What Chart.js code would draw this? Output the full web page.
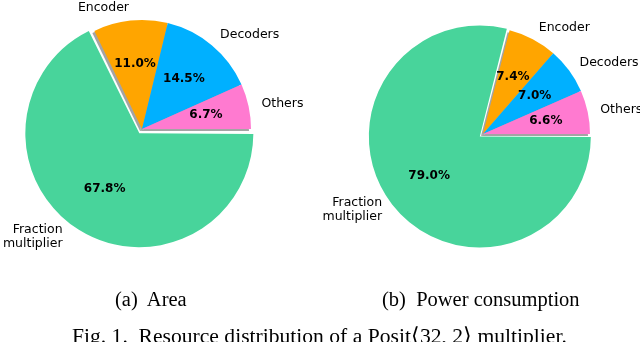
<!DOCTYPE html>
<html>
<head>
<meta charset="utf-8">
<script src="https://cdn.jsdelivr.net/npm/chart.js@4/dist/chart.umd.min.js"></script>
<style>
  html, body { margin: 0; padding: 0; background: #fff; }
  #wrap { position: relative; width: 640px; height: 342px; overflow: hidden; }
  .pane { position: absolute; top: 0; width: 320px; height: 290px; }
  .cap { position: absolute; font-family: "Liberation Serif", serif; font-size: 20.5px; color: #000; white-space: pre; }
</style>
</head>
<body>
<div id="wrap">
  <div class="pane" style="left:0"><canvas id="areaChart" width="320" height="290"></canvas></div>
  <div class="pane" style="left:320px"><canvas id="powerChart" width="320" height="290"></canvas></div>
  <div class="cap" style="left:115px; top:288px">(a)  Area</div>
  <div class="cap" style="left:382px; top:288px">(b)  Power consumption</div>
  <div class="cap" style="left:72px; top:323px; font-size:21.6px">Fig. 1.  Resource distribution of a Posit⟨32, 2⟩ multiplier.</div>
</div>
<script>
// slices listed clockwise from 3 o'clock (matplotlib draws them counter-clockwise)
const labels = ['Fraction\nmultiplier', 'Encoder', 'Decoders', 'Others'];
const areaValues = [67.8, 11.0, 14.5, 6.7];
const powerValues = [79.0, 7.4, 7.0, 6.6];
const colors = ['#48d49b', '#ffa500', '#00b0ff', '#ff7ad0'];

// gray shadow under the pie, percentages inside, names outside
const piePlugin = {
  id: 'piePlugin',
  beforeDatasetsDraw(chart) {
    const ctx = chart.ctx;
    const shift = chart.options.plugins.piePlugin.shift;
    chart.getDatasetMeta(0).data.forEach((arc, i) => {
      const p = arc.getProps(['x', 'y', 'startAngle', 'endAngle', 'outerRadius']);
      const mid = (p.startAngle + p.endAngle) / 2;
      const off = shift[i];
      const cx = p.x + Math.cos(mid) * off - 2, cy = p.y + Math.sin(mid) * off + 2;
      ctx.save();
      ctx.fillStyle = 'rgba(90,90,90,0.55)';
      ctx.beginPath();
      ctx.moveTo(cx, cy);
      ctx.arc(cx, cy, p.outerRadius, p.startAngle, p.endAngle);
      ctx.closePath();
      ctx.fill();
      ctx.restore();
    });
  },
  afterDatasetsDraw(chart) {
    const ctx = chart.ctx;
    const opts = chart.options.plugins.piePlugin;
    const vals = chart.data.datasets[0].data;
    chart.getDatasetMeta(0).data.forEach((arc, i) => {
      const p = arc.getProps(['x', 'y', 'startAngle', 'endAngle', 'outerRadius']);
      const mid = (p.startAngle + p.endAngle) / 2;
      const off = opts.shift[i];
      const cx = p.x + Math.cos(mid) * off, cy = p.y + Math.sin(mid) * off;
      const r = p.outerRadius;
      ctx.save();
      ctx.fillStyle = '#000';
      ctx.textBaseline = 'middle';
      ctx.textAlign = 'center';
      ctx.font = 'bold 12px "DejaVu Sans"';
      ctx.fillText(vals[i].toFixed(1) + '%', cx + Math.cos(mid) * r * 0.6, cy + Math.sin(mid) * r * 0.6);
      ctx.font = '12.5px "DejaVu Sans"';
      const lx = cx + Math.cos(mid) * r * 1.12 + opts.nudge[i], ly = cy + Math.sin(mid) * r * 1.12;
      ctx.textAlign = Math.cos(mid) >= 0 ? 'left' : 'right';
      const lines = chart.data.labels[i].split('\n');
      const lh = 14;
      lines.forEach((t, k) => {
        ctx.fillText(t, lx, ly + (k - (lines.length - 1) / 2) * lh);
      });
      ctx.restore();
    });
  }
};

function makePie(id, values, radius, shift, nudge, pad) {
  return new Chart(document.getElementById(id), {
    type: 'pie',
    data: {
      labels: labels,
      datasets: [{ data: values, backgroundColor: colors, borderWidth: 0, offset: shift.map(o => o * 4) }]
    },
    options: {
      responsive: false,
      animation: false,
      rotation: 90,
      radius: radius,
      layout: { padding: pad },
      plugins: {
        legend: { display: false },
        tooltip: { enabled: false },
        piePlugin: { shift: shift, nudge: nudge }
      }
    },
    plugins: [piePlugin]
  });
}

makePie('areaChart', areaValues, 109, [5, 0, 0, 0], [-12, 0, 0, 0], { left: 27, right: 63, top: 14, bottom: 46 });
makePie('powerChart', powerValues, 107, [4, 0, 0, 0], [-3, 0, 0, 0], { left: 48, right: 42, top: 19, bottom: 41 });
</script>
</body>
</html>
